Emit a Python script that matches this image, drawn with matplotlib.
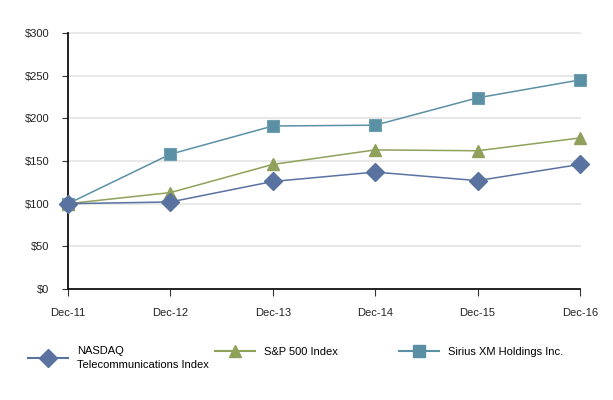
import matplotlib
matplotlib.use("Agg")
import matplotlib.pyplot as plt
from matplotlib.lines import Line2D

plt.rcParams["font.family"] = ["Liberation Sans", "DejaVu Sans"]

years = ["Dec-11", "Dec-12", "Dec-13", "Dec-14", "Dec-15", "Dec-16"]
nasdaq = [100, 102, 126, 137, 127, 146]
sp500 = [100, 113, 146, 163, 162, 177]
sirius = [100, 158, 191, 192, 224, 245]
y_ticks = [0, 50, 100, 150, 200, 250, 300]

C_NASDAQ = "#5a72a0"
C_SP = "#8fa15a"
C_SIRIUS = "#5b90a4"

fig = plt.figure(figsize=(6.13, 4.0), dpi=100)
ax = fig.add_axes([0.111, 0.2775, 0.835, 0.64])

x = range(len(years))
for yv in y_ticks[1:]:
    ax.axhline(yv, color="#e8e8e8", lw=1.5, zorder=0)
ax.plot(x, sirius, color=C_SIRIUS, lw=1.1, marker="s", ms=8.5, mec="#6fa0b2", mew=0.8, zorder=3)
ax.plot(x, sp500, color=C_SP, lw=1.1, marker="^", ms=9, mec=C_SP, zorder=3)
ax.plot(x, nasdaq, color=C_NASDAQ, lw=1.1, marker="D", ms=9.5, mec=C_NASDAQ, zorder=4)

ax.set_xlim(0, len(years) - 1)
ax.set_ylim(0, 300)
ax.set_xticks(list(x))
ax.set_xticklabels(years)
ax.set_yticks(y_ticks)
ax.set_yticklabels([f"${v}" for v in y_ticks])
ax.tick_params(axis="x", length=5, pad=8.5, labelsize=8, colors="#222222")
ax.tick_params(axis="y", length=4.3, pad=9, labelsize=8, colors="#222222")
ax.tick_params(axis="both", color="#333333")
for s in ["top", "right"]:
    ax.spines[s].set_visible(False)
for s in ["left", "bottom"]:
    ax.spines[s].set_color("#111111")
    ax.spines[s].set_linewidth(1.3)
for ln in ax.lines:
    ln.set_clip_on(False)

entries = [
    (C_NASDAQ, "D", 9.5, "NASDAQ\nTelecommunications Index", 0.039, 0.105),
    (C_SP, "^", 9, "S&P 500 Index", 0.3436, 0.12),
    (C_SIRIUS, "s", 8.5, "Sirius XM Holdings Inc.", 0.644, 0.12),
]
for col, mk, ms, lab, xpos, ypos in entries:
    h = Line2D([], [], color=col, lw=1.5, marker=mk, ms=ms, mec=col)
    leg = fig.legend([h], [lab], loc="center left", bbox_to_anchor=(xpos, ypos),
                     frameon=False, fontsize=8, handlelength=3.6, handletextpad=0.8,
                     borderaxespad=0)
    for t in leg.get_texts():
        t.set_linespacing(1.45)

fig.savefig("out.png", dpi=100)
